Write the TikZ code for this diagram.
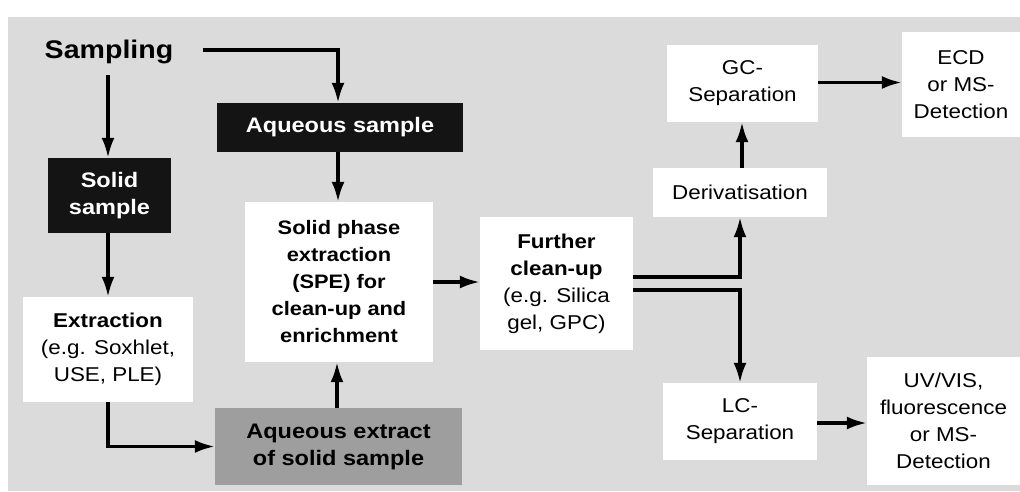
\documentclass[tikz,border=0pt]{standalone}
\usepackage{fontspec}
\setmainfont{Liberation Sans}[FakeStretch=1.12]
\usetikzlibrary{arrows.meta,calc}
\begin{document}
\begin{tikzpicture}[x=1pt,y=-1pt,
  conn/.style={line width=3.2pt,-{Latex[length=20pt,width=13pt]}},
  base/.style={inner sep=0pt,align=center,font=\fontsize{20}{27}\selectfont},
  wbox/.style={base,fill=white},
  bbox/.style={base,fill=black!92,text=white,font=\fontsize{21}{27}\selectfont\bfseries},
  gbox/.style={base,fill=black!38,text=black,font=\fontsize{21}{27}\selectfont\bfseries},
  bold/.style={font=\fontsize{19.5}{27}\selectfont\bfseries},
  sz/.style 2 args={minimum width=#1pt,minimum height=#2pt}
]
\useasboundingbox (0,0) rectangle (1020,491);
\fill[black!14] (8,17) rectangle (1020,491);

\node[base,font=\fontsize{25.5}{27}\selectfont\bfseries] (samp) at (109,52) {Sampling};
\node[bbox,sz={123}{75}] (solid) at (109.5,195.5) {Solid\\sample};
\node[wbox,sz={170}{105}] (extr) at (108,349.5) {\textbf{Extraction}\\(e.g. Soxhlet,\\USE, PLE)};
\node[bbox,sz={246}{49}] (aqs) at (340,127.5) {Aqueous sample};
\node[wbox,bold,sz={188}{160}] (spe) at (339,282) {Solid phase\\extraction\\(SPE) for\\clean-up and\\enrichment};
\node[gbox,sz={247}{77}] (aqe) at (338.5,446.5) {Aqueous extract\\of solid sample};
\node[wbox,sz={153}{133}] (fur) at (556.5,283.5) {\textbf{Further}\\\textbf{clean-up}\\(e.g. Silica\\gel, GPC)};
\node[wbox,sz={174}{49}] (der) at (740,192.5) {Derivatisation};
\node[wbox,sz={151}{77}] (gc) at (742.5,83.5) {GC-\\Separation};
\node[wbox,sz={118}{105}] (ecd) at (961,84.5) {ECD\\or MS-\\Detection};
\node[wbox,sz={154}{77}] (lc) at (740,421.5) {LC-\\Separation};
\node[wbox,sz={153}{128}] (uv) at (943.5,421) {UV/VIS,\\fluorescence\\or MS-\\Detection};

\coordinate (sampE) at (203,50);
\coordinate (sampS) at (108,75);
\draw[conn] (sampE) -| ([xshift=-2pt]aqs.north);
\draw[conn] (sampS) -- (sampS |- solid.north);
\draw[conn] ([xshift=-1.5pt]solid.south) -- ([xshift=-1.5pt]solid.south |- extr.north);
\draw[conn] ([xshift=-2pt]aqs.south) -- ([xshift=-2pt]aqs.south |- spe.north);
\draw[conn] (extr.south) |- (aqe.west);
\draw[conn] ([xshift=-1.5pt]aqe.north) -- ([xshift=-1.5pt]aqe.north |- spe.south);
\draw[conn] (spe.east) -- (spe.east -| fur.west);
\draw[conn] ($(fur.east)+(0,-6.5)$) -| (der.south);
\draw[conn] ($(fur.east)+(0,6.5)$) -| (lc.north);
\draw[conn] ([xshift=2pt]der.north) -- ([xshift=2pt]der.north |- gc.south);
\draw[conn] ([yshift=1pt]gc.east) -- ([yshift=1pt]gc.east -| ecd.west);
\draw[conn] ([yshift=-1.5pt]lc.east) -- ([yshift=-1.5pt]lc.east -| uv.west);
\end{tikzpicture}
\end{document}
